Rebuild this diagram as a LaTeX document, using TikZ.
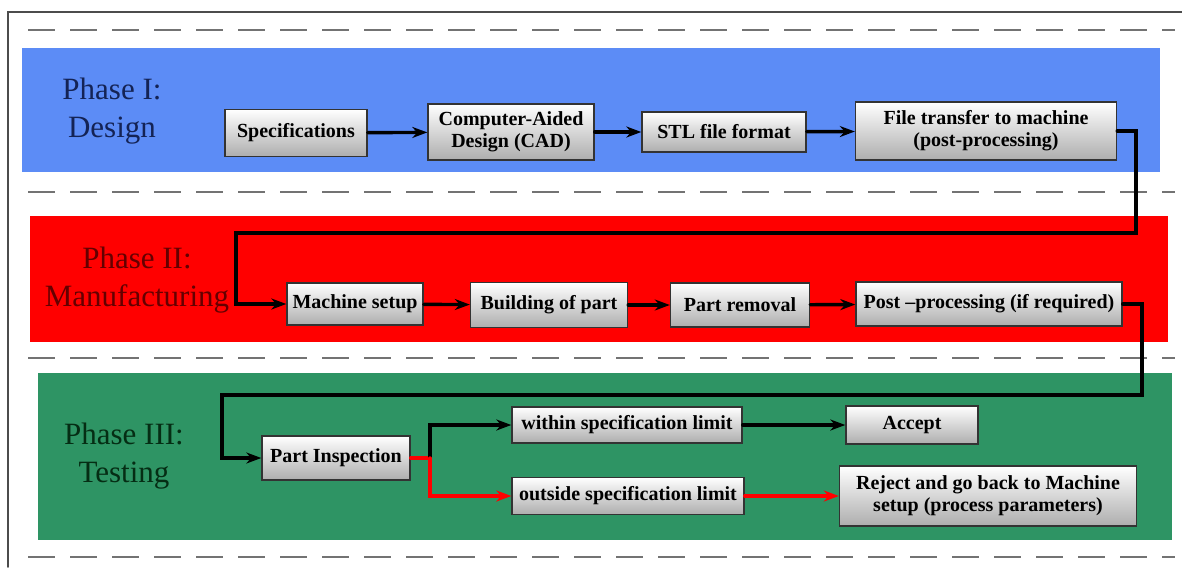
\documentclass[tikz,border=0pt]{standalone}
\usepackage{fontspec}
\setmainfont{Liberation Serif}
\usepackage{tikz}
\usetikzlibrary{arrows.meta}

\definecolor{designblue}{RGB}{92,140,246}
\definecolor{manred}{RGB}{255,0,0}
\definecolor{testgreen}{RGB}{46,148,100}

\begin{document}
\begin{tikzpicture}[x=1pt,y=-1pt,>={Stealth[length=15pt,width=11pt]},line cap=round,
			box/.style={draw=black!80,line width=1.4pt,top color=white,bottom color=black!32,
				font=\bfseries\fontsize{20}{22}\selectfont,align=center,inner sep=1pt},
			phase/.style={font=\fontsize{31}{38}\selectfont,align=center},
			flow/.style={line width=3.4pt,->},
			rflow/.style={line width=3.4pt,red,->},
			sepline/.style={black!55,line width=2.8pt,line cap=butt,dash pattern=on 27pt off 15pt}]
			\useasboundingbox (0,0) rectangle (1182,567);
			% frame and bands
			\draw[black!70,line width=1.5pt] (1182,12) -- (8,12) -- (8,567);
			\fill[designblue] (22,48) rectangle (1160,172);
			\fill[manred] (30,216) rectangle (1168,342);
			\fill[testgreen] (38,373) rectangle (1172,540);
			\foreach \Y in {30,192,358,557}
			{\draw[sepline] (28,\Y) -- (1175,\Y);}
			
			\node[phase,text={rgb,255:red,20;green,35;blue,85}] (ph1) at (112,111) {Phase I:\\Design};
			\node[phase,text={rgb,255:red,100;green,0;blue,0}] (ph2) at (137,280) {Phase II:\\Manufacturing};
			\node[phase,text={rgb,255:red,5;green,45;blue,20}] (ph3) at (124,456) {Phase III:\\Testing};
			
			% Phase I
			\node[box,minimum width=142,minimum height=47] (spec) at (296,133) {Specifications};
			\node[box,minimum width=166,minimum height=56] (cad) at (511,132) {Computer-Aided\\Design (CAD)};
			\node[box,minimum width=164,minimum height=40] (stl) at (724,132) {STL file format};
			\node[box,minimum width=261,minimum height=58] (ftm) at (986,131) {File transfer to machine\\(post-processing)};
			% Phase II
			\node[box,minimum width=136,minimum height=42] (mset) at (355,304) {Machine setup};
			\node[box,minimum width=157,minimum height=45] (build) at (549,305) {Building of part};
			\node[box,minimum width=139,minimum height=44] (prem) at (740,305) {Part removal};
			\node[box,minimum width=266,minimum height=44] (post) at (989,304) {Post --processing (if required)};
			% Phase III
			\node[box,minimum width=148,minimum height=44] (insp) at (336,458) {Part Inspection};
			\node[box,minimum width=230,minimum height=36] (within) at (627,425) {within specification limit};
			\node[box,minimum width=132,minimum height=38] (acc) at (912,425) {Accept};
			\node[box,minimum width=232,minimum height=37] (outside) at (628,496) {outside specification limit};
			\node[box,minimum width=297,minimum height=60] (rej) at (988,496) {Reject and go back to Machine\\setup (process parameters)};
			
			\coordinate (t1) at (1136,233);
			\coordinate (t2) at (236,233);
			\coordinate (t3) at (1142,395);
			\coordinate (t4) at (222,395);
			\coordinate (br) at (430,458);
			
			\draw[flow] (spec) -- (cad);
			\draw[flow] (cad) -- (stl);
			\draw[flow] (stl) -- (ftm);
			\draw[flow] (ftm.east) -| (t1) -- (t2) |- (mset.west);
			\draw[flow] (mset) -- (build);
			\draw[flow] (build) -- (prem);
			\draw[flow] (prem) -- (post);
			\draw[flow] (post.east) -| (t3) -- (t4) |- (insp.west);
			\draw[line width=3.4pt,red] (insp.east) -- (br);
			\draw[flow] (br) |- (within.west);
			\draw[rflow] (br) |- (outside.west);
			\draw[flow] (within) -- (acc);
			\draw[rflow] (outside) -- (rej);
		\end{tikzpicture}
\end{document}
